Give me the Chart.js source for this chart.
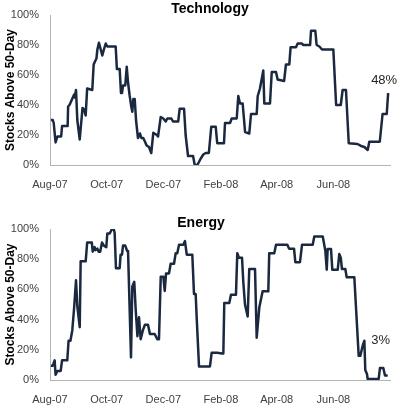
<!DOCTYPE html>
<html>
<head>
<meta charset="utf-8">
<script src="https://cdn.jsdelivr.net/npm/chart.js@4/dist/chart.umd.min.js"></script>
<style>
  html, body { margin: 0; padding: 0; background: #fff; overflow: hidden; width: 400px; height: 407px; }
  .box { position: absolute; left: 0; height: 200px; }
</style>
</head>
<body>
<div class="box" style="top:0px; width:420px"><canvas id="tech"></canvas></div>
<div class="box" style="top:214px; width:402px"><canvas id="energy"></canvas></div>
<script>
// ---- Data (x = days since 1 Aug 2007, y = % of stocks above 50-day MA) ----
const tickLabels = ['Aug-07', 'Oct-07', 'Dec-07', 'Feb-08', 'Apr-08', 'Jun-08'];
const tickDays   = [0, 61, 122, 184, 244, 305];

const techDays = [1,3,4,6,8,12,13,19,19.5,21,26,26.6,28,29.4,32,35,36.6,38.4,40,45.5,47,48.4,50,51,52.7,54.6,56.3,58,60,61.7,70.7,72,75,76.4,77.5,78.6,81,82.6,84,85.8,87.5,88.6,89.7,91.2,92.6,94.7,96.9,98.3,100.4,102.3,104,106.6,109,111.2,115,116.3,119.2,122,124.6,126.3,130.6,132.4,138,139.6,144.3,146,148.6,154,155.8,158.6,162,165,167.6,171,173.6,178.4,180,187.3,188.4,193.8,195.6,201,202.7,204.5,207.4,210,214.5,216.4,222.5,223.6,226,229.6,230.7,236.8,238.7,243.3,245,252,254,257.6,259,264.8,266.6,271,272.7,280,281,285.6,287,290,292.8,305,308,313,315,318.6,321.6,331,334.8,338.4,342,343.7,355,358,362.5,364];
const techValues = [30,30,28,15,19,19,26,26,39,40,47,45,50,30,17,38,37,33,51,50,67,69,71,77,81.5,77,73,77,81,79,79,64,64,48,48,53,53,65.5,55,46,39,35.5,44,44,30,18,21,18,18,15.5,13,12,8,21.5,20,19,32,31,29,31,31,29,29,37.5,37.5,20,6,6,0,0,4,7,8,8,25.5,25.5,14.5,14.5,28,28,31,31,46,41,41,22,21,34,34,46,51,63,41,41,62,62,57,56,67,67,78.5,78.5,81,81,80,80,89.5,89.5,80,79,77,77,40,40,50,50,14.5,14,12.7,12,10,15.5,15.5,34,34,48];

const energyDays = [1,3,5,6,8,11.5,13,18.6,20,22,24,26,28,29.4,32,33,38.4,40,45,46,48,49,51,52.4,54,56,58,60.6,61.7,64.3,66.7,68.5,69.6,71,75,76,77.5,78.6,81,83,84,87.2,88.6,90.7,92.3,94.1,95.8,97.6,100,102.2,105.5,107.6,112.7,115.5,117.3,119.2,122,123.5,124.9,128.1,129.9,133.5,135.3,137,138.9,143.5,145.3,147.2,153.2,155,156.8,157.9,160.4,172.2,174,180,185.2,186.6,187.6,193,194.8,200.2,201.6,203.4,206.7,208.1,209.9,212.8,214.5,220.7,222.5,225.3,228.9,235,236,241.4,243.3,255.5,257.3,262.7,264.1,269.1,271.3,282.8,284.5,293.6,296.4,297.9,298.9,302.5,303.9,309.7,311.4,313,314.3,317.9,319.4,327.6,329.4,332.3,334,336.6,338.4,339.4,341.2,342,353.8,355.2,358.8,360.6,363.5];
const energyValues = [9.5,9.5,13,3.5,6,6,13,13,26,26,33,48,66,49,35,78.6,78.6,91,91,85,88,86,87,85,85,91,89,88,97,97,100,100,97.5,74,74,83,83,89,89,85.5,85.5,15,62,65,46,29,41.5,27,33,36.6,36.6,30.5,30.5,27,27,68.4,68.4,59,70.6,70.6,77,77,84,84,89.6,89.6,92,83,83,57,57,41.5,9,9,18,18,17.6,17.6,51,51,56.5,56.5,84,81,81,64.7,50,42,73.5,73.5,28,48,58.7,58.7,84,84,89.6,89.6,87,87,78,78,89.6,89.6,95,95,85.6,73,86.7,86.7,73,73,83.4,81,73.5,73.5,68,68,48,16,16,22.7,26,6.6,4,0.7,0.7,8,8,3,3];

// ---- Plugin: value label near the last point ----
const lastLabel = {
  id: 'lastLabel',
  afterDatasetsDraw(chart, args, opts) {
    const meta = chart.getDatasetMeta(0);
    const pt = meta.data[meta.data.length - 1];
    const ds = chart.data.datasets[0].data;
    const v = ds[ds.length - 1].y;
    const ctx = chart.ctx;
    ctx.save();
    ctx.font = '13px "Liberation Sans", Arial, sans-serif';
    ctx.fillStyle = '#262626';
    ctx.textAlign = 'center';
    ctx.textBaseline = 'middle';
    ctx.fillText(Math.round(v) + '%', pt.x + opts.dx, pt.y + opts.dy);
    ctx.restore();
  }
};

function makeChart(id, title, days, values, rightPad, bottomPad, dx, dy) {
  const pts = days.map((d, i) => ({ x: d, y: values[i] }));
  return new Chart(document.getElementById(id), {
    type: 'line',
    data: { datasets: [{ data: pts, borderColor: '#1a2840', borderWidth: 2.5, pointRadius: 0, tension: 0, fill: false, borderJoinStyle: 'round' }] },
    plugins: [lastLabel],
    options: {
      responsive: true,
      maintainAspectRatio: false,
      animation: false,
      layout: { padding: { left: 0, right: 0, top: 0, bottom: bottomPad } },
      plugins: {
        legend: { display: false },
        tooltip: { enabled: false },
        title: {
          display: true, text: title, color: '#000',
          font: { family: '"Liberation Sans", Arial, sans-serif', size: 14, weight: 'bold', lineHeight: 1 },
          padding: { top: 2, bottom: -1 }
        },
        lastLabel: { dx: dx, dy: dy }
      },
      scales: {
        x: {
          type: 'linear', min: 0, max: 366,
          grid: { display: false, drawTicks: false },
          border: { display: true, color: '#b3b3b3', width: 1 },
          afterBuildTicks(s) { s.ticks = tickDays.map(v => ({ value: v })); },
          ticks: {
            autoSkip: false, maxRotation: 0, padding: 13, color: '#404040',
            font: { family: '"Liberation Sans", Arial, sans-serif', size: 11 },
            callback: (v) => { const i = tickDays.indexOf(v); return i >= 0 ? tickLabels[i] : ''; }
          },
          afterFit(s) { s.height = 26; }
        },
        y: {
          min: 0, max: 100,
          grid: { display: false, drawTicks: false },
          border: { display: true, color: '#b3b3b3', width: 1 },
          ticks: {
            stepSize: 20, padding: 11, color: '#404040',
            font: { family: '"Liberation Sans", Arial, sans-serif', size: 11 },
            callback: v => v + '%'
          },
          title: {
            display: true, text: 'Stocks Above 50-Day', color: '#000',
            font: { family: '"Liberation Sans", Arial, sans-serif', size: 12, weight: 'bold' },
            padding: { top: 3, bottom: 0 }
          },
          afterFit(s) { s.width = 50; s.paddingTop = 7; s.paddingBottom = 7; }
        },
        yr: {
          position: 'right', display: true,
          grid: { display: false, drawTicks: false },
          border: { display: false },
          ticks: { display: false },
          afterFit(s) { s.width = rightPad; s.paddingTop = 0; s.paddingBottom = 0; }
        }
      }
    }
  });
}

makeChart('tech', 'Technology', techDays, techValues, 30, 9, -4, -13);
makeChart('energy', 'Energy', energyDays, energyValues, 12, 8, -7, -35);
</script>
</body>
</html>
